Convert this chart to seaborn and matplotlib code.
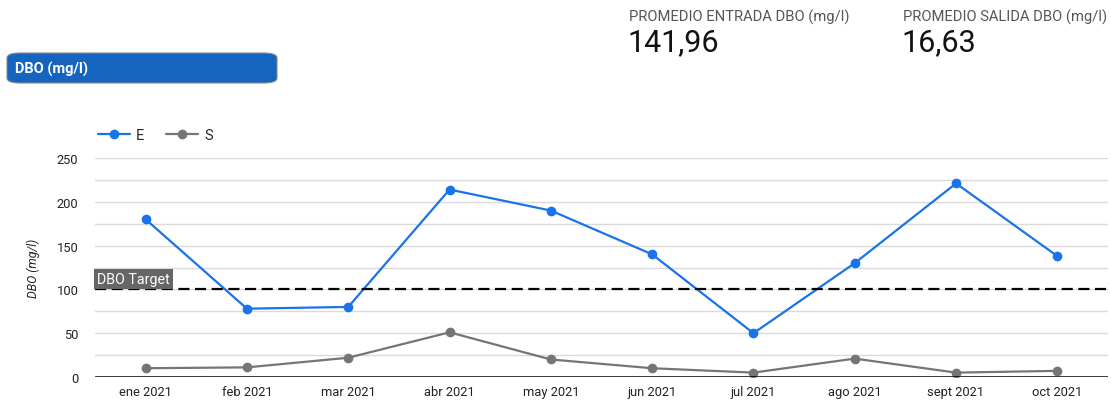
import matplotlib
matplotlib.use("Agg")
import matplotlib.pyplot as plt
from matplotlib.patches import FancyBboxPatch
from matplotlib.lines import Line2D
import seaborn as sns
import pandas as pd

months = ["ene 2021", "feb 2021", "mar 2021", "abr 2021", "may 2021",
          "jun 2021", "jul 2021", "ago 2021", "sept 2021", "oct 2021"]
entrada = [180, 78, 80, 214, 190, 140, 50, 130, 221, 138]
salida = [10, 11, 22, 51, 20, 10, 5, 21, 5, 7]
target = 100
yticks = [0, 50, 100, 150, 200, 250]
kpi_labels = ["PROMEDIO ENTRADA DBO (mg/l)", "PROMEDIO SALIDA DBO (mg/l)"]
kpi_values = ["141,96", "16,63"]

BLUE = "#1a73e8"
GREY = "#757575"

sns.set_theme(style="white")
plt.rcParams['font.family'] = ['Roboto', 'DejaVu Sans']

df = pd.DataFrame({
    "mes": months * 2,
    "x": list(range(len(months))) * 2,
    "valor": entrada + salida,
    "serie": ["E"] * len(months) + ["S"] * len(months),
})

fig = plt.figure(figsize=(11.11, 4.02), dpi=100)
ax = fig.add_axes([95 / 1111, 1 - 378 / 402, (1108 - 95) / 1111, (378 - 159) / 402])

for y in range(25, 251, 25):
    ax.axhline(y, color="#dadada", lw=1, zorder=0)

sns.lineplot(data=df, x="x", y="valor", hue="serie", palette={"E": BLUE, "S": GREY},
             marker="o", markersize=7, markeredgewidth=0, linewidth=1.6, ax=ax,
             legend=False, zorder=3)

ax.axhline(target, color="black", lw=1.6, ls=(0, (5, 2.5)), zorder=4)
ax.axhline(0, color="black", lw=1.8, zorder=5)

ax.set_xlim(-0.5, len(months) - 0.5)
ax.set_ylim(0, 250)
ax.set_yticks(yticks)
ax.set_xticks(range(len(months)))
ax.set_xticklabels(months)
ax.tick_params(axis="both", length=0, labelsize=9.3, colors="#222222")
ax.tick_params(axis="x", pad=6)
ax.tick_params(axis="y", pad=12)
for s in ax.spines.values():
    s.set_visible(False)
ax.set_xlabel("")
ax.set_ylabel("DBO (mg/l)", fontsize=8.8, style="italic", color="#222222", labelpad=12)

ax.text(0.002, 100 + 4, "DBO Target", transform=ax.get_yaxis_transform(),
        fontsize=10.3, color="white", va="bottom", ha="left", zorder=6,
        bbox=dict(boxstyle="square,pad=0.22", fc="#666666", ec="none"))

# legend
handles = [Line2D([], [], color=BLUE, marker="o", lw=1.6, markersize=7, markeredgewidth=0),
           Line2D([], [], color=GREY, marker="o", lw=1.6, markersize=7, markeredgewidth=0)]
fig.legend(handles, ["E", "S"], loc="center left", bbox_to_anchor=(85 / 1111, 1 - 136 / 402),
           ncol=2, frameon=False, fontsize=10.5, handlelength=2.2, handletextpad=0.4,
           columnspacing=1.5)

# title box
box = FancyBboxPatch((7 / 1111, 1 - 84 / 402), 270 / 1111, 30 / 402,
                     boxstyle="round,pad=0,rounding_size=0.012",
                     transform=fig.transFigure, fc="#1565c0", ec="#888888", lw=0.8)
fig.patches.append(box)
fig.text(15 / 1111, 1 - 69 / 402, "DBO (mg/l)", color="white", fontsize=10.5,
         fontweight="bold", va="center", ha="left")

# KPIs
for xpx, lab, val in zip([629, 903], kpi_labels, kpi_values):
    fig.text(xpx / 1111, 1 - 17 / 402, lab, fontsize=10.6, color="#555555",
             va="center", ha="left")
    fig.text(xpx / 1111 - 0.001, 1 - 43 / 402, val, fontsize=22, color="#111111",
             va="center", ha="left")

fig.savefig("out.png", dpi=100)
